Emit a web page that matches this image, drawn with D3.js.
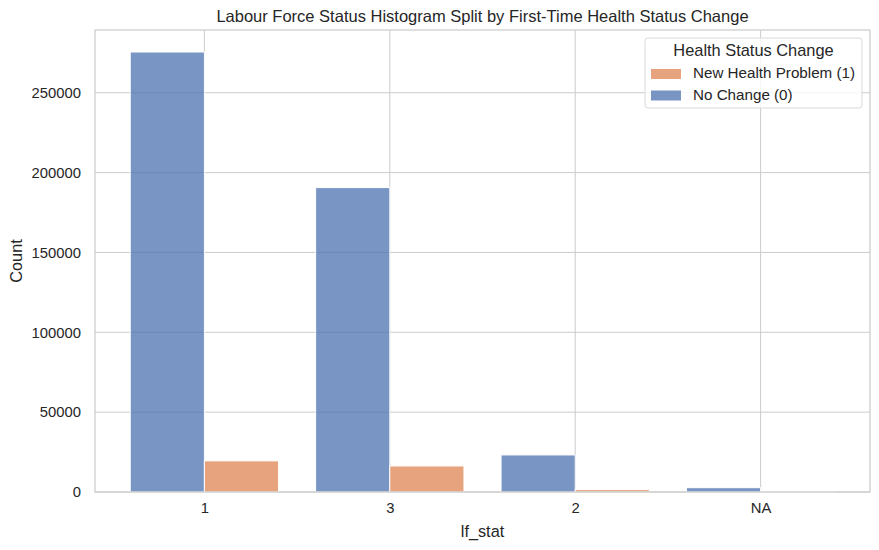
<!DOCTYPE html>
<html>
<head>
<meta charset="utf-8">
<script src="https://cdn.jsdelivr.net/npm/d3@7"></script>
<style>
  body { margin: 0; background: #fff; }
  text { font-family: "Liberation Sans", Arial, sans-serif; fill: #262626; }
</style>
</head>
<body>
<svg id="chart"></svg>
<script>
// data
const categories = ["1", "3", "2", "NA"];
const noChange = [275500, 190600, 23200, 2700];      // hue 0
const newProblem = [19500, 16300, 1500, 200];        // hue 1
const yTicks = [0, 50000, 100000, 150000, 200000, 250000];
const seriesNames = ["No Change (0)", "New Health Problem (1)"];
const seriesColors = ["#4C72B0", "#DD8452"];

const width = 879;
const height = 550;
const margin = { top: 30, right: 9, bottom: 58, left: 95 };

const svg = d3.select("#chart")
    .attr("width", width)
    .attr("height", height);

const innerW = width - margin.left - margin.right;
const innerH = height - margin.top - margin.bottom;

// category index as a continuous axis, like matplotlib does
const x = d3.scaleLinear()
    .domain([-0.59, categories.length - 1 + 0.59])
    .range([margin.left, margin.left + innerW]);

const yMax = d3.max(noChange) * 1.05;
const y = d3.scaleLinear()
    .domain([0, yMax])
    .range([margin.top + innerH, margin.top]);

// grid
const grid = svg.append("g");
grid.selectAll(".hg")
    .data(yTicks)
    .join("line")
    .attr("x1", margin.left)
    .attr("x2", margin.left + innerW)
    .attr("y1", d => y(d))
    .attr("y2", d => y(d))
    .attr("stroke", "#cccccc")
    .attr("stroke-width", 1);

grid.selectAll(".vg")
    .data(categories)
    .join("line")
    .attr("x1", (d, i) => x(i))
    .attr("x2", (d, i) => x(i))
    .attr("y1", margin.top)
    .attr("y2", margin.top + innerH)
    .attr("stroke", "#cccccc")
    .attr("stroke-width", 1);

// bars - dodge with shrink 0.8
const barW = 0.4;
const series = [noChange, newProblem];
series.forEach((vals, s) => {
    svg.append("g")
        .selectAll("rect")
        .data(vals)
        .join("rect")
        .attr("x", (d, i) => x(i - 0.4 + s * barW))
        .attr("width", x(barW) - x(0))
        .attr("y", d => y(d))
        .attr("height", d => y(0) - y(d))
        .attr("fill", seriesColors[s])
        .attr("fill-opacity", 0.75)
        .attr("stroke", "#fff")
        .attr("stroke-width", 1);
});

// frame
svg.append("rect")
    .attr("x", margin.left)
    .attr("y", margin.top)
    .attr("width", innerW)
    .attr("height", innerH)
    .attr("fill", "none")
    .attr("stroke", "#cccccc")
    .attr("stroke-width", 1.25);

// axes
const yAxis = svg.append("g")
    .attr("transform", `translate(${margin.left},0)`)
    .call(d3.axisLeft(y).tickValues(yTicks).tickSize(0).tickPadding(14).tickFormat(d3.format("d")));
yAxis.select(".domain").remove();
yAxis.selectAll("text").attr("font-size", 14.8).style("font-family", "Liberation Sans, Arial, sans-serif");

const xAxis = svg.append("g")
    .attr("transform", `translate(0,${margin.top + innerH})`)
    .call(d3.axisBottom(x).tickValues(d3.range(categories.length)).tickSize(0).tickPadding(10).tickFormat(i => categories[i]));
xAxis.select(".domain").remove();
xAxis.selectAll("text").attr("font-size", 14.8).style("font-family", "Liberation Sans, Arial, sans-serif");

// labels
svg.append("text")
    .attr("x", margin.left + innerW / 2)
    .attr("y", 537)
    .attr("text-anchor", "middle")
    .attr("font-size", 16.3)
    .text("lf_stat");

svg.append("text")
    .attr("transform", `translate(22,${margin.top + innerH / 2}) rotate(-90)`)
    .attr("text-anchor", "middle")
    .attr("font-size", 16.3)
    .text("Count");

svg.append("text")
    .attr("x", margin.left + innerW / 2)
    .attr("y", 22)
    .attr("text-anchor", "middle")
    .attr("font-size", 16.5)
    .text("Labour Force Status Histogram Split by First-Time Health Status Change");

// legend
const legend = svg.append("g").attr("transform", "translate(645,38)");
legend.append("rect")
    .attr("width", 217)
    .attr("height", 70)
    .attr("rx", 3)
    .attr("fill", "#fff")
    .attr("fill-opacity", 0.8)
    .attr("stroke", "#d9d9d9");

legend.append("text")
    .attr("x", 108.5)
    .attr("y", 18)
    .attr("text-anchor", "middle")
    .attr("font-size", 16.4)
    .text("Health Status Change");

const legendOrder = [1, 0];
legendOrder.forEach((s, k) => {
    const ly = 35 + k * 21.5;
    legend.append("rect")
        .attr("x", 6)
        .attr("y", ly - 4)
        .attr("width", 30)
        .attr("height", 10)
        .attr("fill", seriesColors[s])
        .attr("fill-opacity", 0.75);
    legend.append("text")
        .attr("x", 48)
        .attr("y", ly + 5)
        .attr("font-size", 15.2)
        .text(seriesNames[s]);
});
</script>
</body>
</html>
